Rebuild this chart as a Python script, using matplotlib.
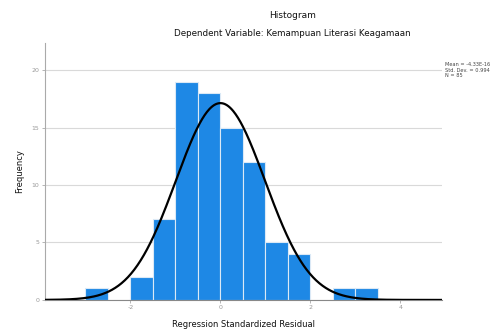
import numpy as np
import matplotlib
matplotlib.use("Agg")
import matplotlib.pyplot as plt

plt.rcParams['axes.unicode_minus'] = False

bin_left = [-3.0, -2.0, -1.5, -1.0, -0.5, 0.0, 0.5, 1.0, 1.5, 2.5, 3.0]
counts = [1, 2, 7, 19, 18, 15, 12, 5, 4, 1, 1]
bin_width = 0.5
mean_val = 0.0
std_val = 0.99
n_val = 85
x_ticks = [-2, 0, 2, 4]
y_ticks = [0, 5, 10, 15, 20]
stats_text = "Mean = -4.33E-16\nStd. Dev. = 0.994\nN = 85"

fig = plt.figure(figsize=(4.96, 3.34), dpi=100)
ax = fig.add_axes([0.0907, 0.102, 0.8, 0.769])

ax.bar(bin_left, counts, width=bin_width, align='edge', color='#1E88E5',
       edgecolor='#dbe9f6', linewidth=0.8, zorder=2)

xs = np.linspace(-3.9, 4.95, 500)
pdf = n_val * bin_width / (std_val * np.sqrt(2 * np.pi)) * np.exp(-0.5 * ((xs - mean_val) / std_val) ** 2)
ax.plot(xs, pdf, color='black', linewidth=1.6, zorder=3)

ax.set_xlim(-3.9, 4.92)
ax.set_ylim(0, 22.35)
ax.set_xticks(x_ticks)
ax.set_yticks(y_ticks)
ax.tick_params(axis='both', labelsize=4.5, colors='#999999', length=2, width=0.5, pad=2)
ax.grid(axis='y', color='#d9d9d9', linewidth=0.8, zorder=0)
ax.set_axisbelow(True)
for s in ['top', 'right']:
    ax.spines[s].set_visible(False)
ax.spines['left'].set_color('#aaaaaa')
ax.spines['bottom'].set_color('#888888')
ax.spines['left'].set_linewidth(0.8)
ax.spines['bottom'].set_linewidth(0.8)

ax.set_xlabel("Regression Standardized Residual", fontsize=6, labelpad=7, color='#111111')
ax.set_ylabel("Frequency", fontsize=6, labelpad=5, color='#111111')

fig.text(0.59, 0.955, "Histogram", ha='center', va='center', fontsize=6.5, color='#111111')
fig.text(0.59, 0.90, "Dependent Variable: Kemampuan Literasi Keagamaan", ha='center', va='center',
         fontsize=6.3, color='#111111')
fig.text(0.897, 0.815, stats_text, ha='left', va='top', fontsize=3.6, color='#444444', linespacing=1.2)

fig.savefig("out.png", dpi=100)
